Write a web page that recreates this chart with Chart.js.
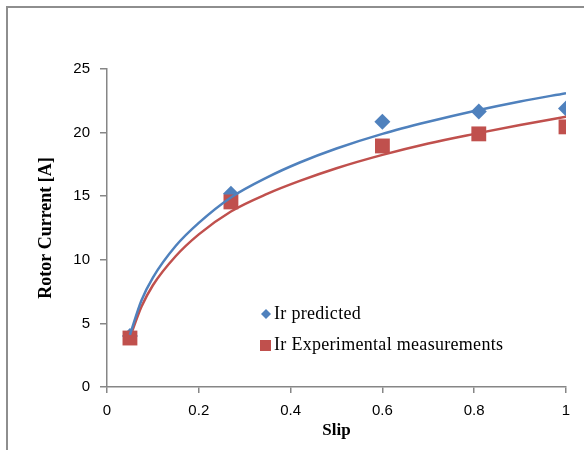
<!DOCTYPE html>
<html>
<head>
<meta charset="utf-8">
<script src="https://cdn.jsdelivr.net/npm/chart.js@4"></script>
<style>
  html, body { margin: 0; padding: 0; background: #fff; }
  #wrap { position: relative; width: 584px; height: 450px; overflow: hidden; }
  #frame { position: absolute; left: 6px; top: 6px; width: 700px; height: 600px;
           border-left: 2px solid #8e8e8e; border-top: 2px solid #8e8e8e; }
  canvas { position: absolute; left: 0; top: 0; }
</style>
</head>
<body>
<div id="wrap">
  <div id="frame"></div>
  <canvas id="slipChart" width="584" height="450"></canvas>
</div>
<script>
// measured points
const slip = [0.05, 0.27, 0.6, 0.81, 1.0];
const irPredicted = [4.0, 15.2, 20.85, 21.65, 21.9];
const irMeasured = [3.85, 14.55, 18.95, 19.9, 20.45];

// trendlines
const trendSlip = [0.05, 0.075, 0.1, 0.15, 0.2, 0.27, 0.35, 0.42, 0.5, 0.6, 0.7, 0.8, 0.9, 1.0];
const trendPredicted = [4.1, 6.8, 8.6, 11.1, 12.9, 14.9, 16.5, 17.65, 18.75, 19.9, 20.85, 21.7, 22.45, 23.1];
const trendMeasured = [3.9, 6.3, 8.0, 10.3, 12.0, 13.8, 15.2, 16.2, 17.2, 18.25, 19.15, 19.9, 20.6, 21.25];

const xTicks = [0, 0.2, 0.4, 0.6, 0.8, 1];
const yTicks = [0, 5, 10, 15, 20, 25];

const BLUE = '#4f81bd';
const RED = '#c0504d';
const AXIS = '#868686';

const pts = (xs, ys) => xs.map((x, i) => ({ x: x, y: ys[i] }));

// legend drawn inside the plot, like the original
const innerLegend = {
    id: 'innerLegend',
    afterDraw(chart) {
        const ctx = chart.ctx;
        ctx.save();
        ctx.font = '18px "Liberation Serif", "Times New Roman", serif';
        ctx.letterSpacing = '0.3px';
        ctx.textBaseline = 'middle';

        // diamond
        ctx.fillStyle = BLUE;
        ctx.beginPath();
        ctx.moveTo(266, 309);
        ctx.lineTo(271, 314);
        ctx.lineTo(266, 319);
        ctx.lineTo(261, 314);
        ctx.closePath();
        ctx.fill();
        ctx.fillStyle = '#000';
        ctx.fillText('Ir predicted', 274, 314);

        // square
        ctx.fillStyle = RED;
        ctx.fillRect(260, 340, 11, 11);
        ctx.fillStyle = '#000';
        ctx.fillText('Ir Experimental measurements', 274, 345);
        ctx.restore();
    }
};

new Chart(document.getElementById('slipChart'), {
    type: 'scatter',
    data: {
        datasets: [
            {
                label: 'Ir predicted',
                data: pts(slip, irPredicted),
                pointStyle: 'rectRot',
                pointRadius: 8,
                pointHoverRadius: 8,
                backgroundColor: BLUE,
                borderColor: BLUE,
                borderWidth: 0,
                order: 4
            },
            {
                label: 'Ir Experimental measurements',
                data: pts(slip, irMeasured),
                pointStyle: 'rect',
                pointRadius: 10.5,
                pointHoverRadius: 10.5,
                backgroundColor: RED,
                borderColor: RED,
                borderWidth: 0,
                order: 3
            },
            {
                label: 'trend measured',
                data: pts(trendSlip, trendMeasured),
                showLine: true,
                pointRadius: 0,
                borderColor: RED,
                borderWidth: 2.5,
                cubicInterpolationMode: 'monotone',
                order: 2
            },
            {
                label: 'trend predicted',
                data: pts(trendSlip, trendPredicted),
                showLine: true,
                pointRadius: 0,
                borderColor: BLUE,
                borderWidth: 2.5,
                cubicInterpolationMode: 'monotone',
                order: 1
            }
        ]
    },
    options: {
        responsive: false,
        animation: false,
        layout: { padding: { left: 0, top: 69, right: 18, bottom: 0 } },
        plugins: {
            legend: { display: false },
            tooltip: { enabled: false }
        },
        scales: {
            x: {
                type: 'linear',
                min: 0,
                max: 1,
                afterBuildTicks: (scale) => { scale.ticks = xTicks.map(v => ({ value: v })); },
                afterFit: (scale) => { scale.height = 63; },
                grid: { drawOnChartArea: false, drawTicks: true, tickLength: 6, color: AXIS, lineWidth: 1.5 },
                border: { color: AXIS, width: 1.5 },
                ticks: {
                    padding: 9,
                    color: '#000',
                    font: { family: '"Liberation Sans", Arial, sans-serif', size: 15 },
                    callback: (v) => String(v)
                },
                title: {
                    display: true,
                    text: 'Slip',
                    color: '#000',
                    font: { family: '"Liberation Serif", "Times New Roman", serif', size: 17, weight: 'bold' },
                    padding: { top: 0, bottom: 9 }
                }
            },
            y: {
                min: 0,
                max: 25,
                afterBuildTicks: (scale) => { scale.ticks = yTicks.map(v => ({ value: v })); },
                afterFit: (scale) => { scale.width = 107; },
                grid: { drawOnChartArea: false, drawTicks: true, tickLength: 7, color: AXIS, lineWidth: 1.5 },
                border: { color: AXIS, width: 1.5 },
                ticks: {
                    padding: 10,
                    color: '#000',
                    font: { family: '"Liberation Sans", Arial, sans-serif', size: 15 }
                },
                title: {
                    display: true,
                    text: 'Rotor Current [A]',
                    color: '#000',
                    font: { family: '"Liberation Serif", "Times New Roman", serif', size: 18, weight: 'bold' },
                    padding: { top: 36, bottom: 0 }
                }
            }
        }
    },
    plugins: [innerLegend]
});
</script>
</body>
</html>
